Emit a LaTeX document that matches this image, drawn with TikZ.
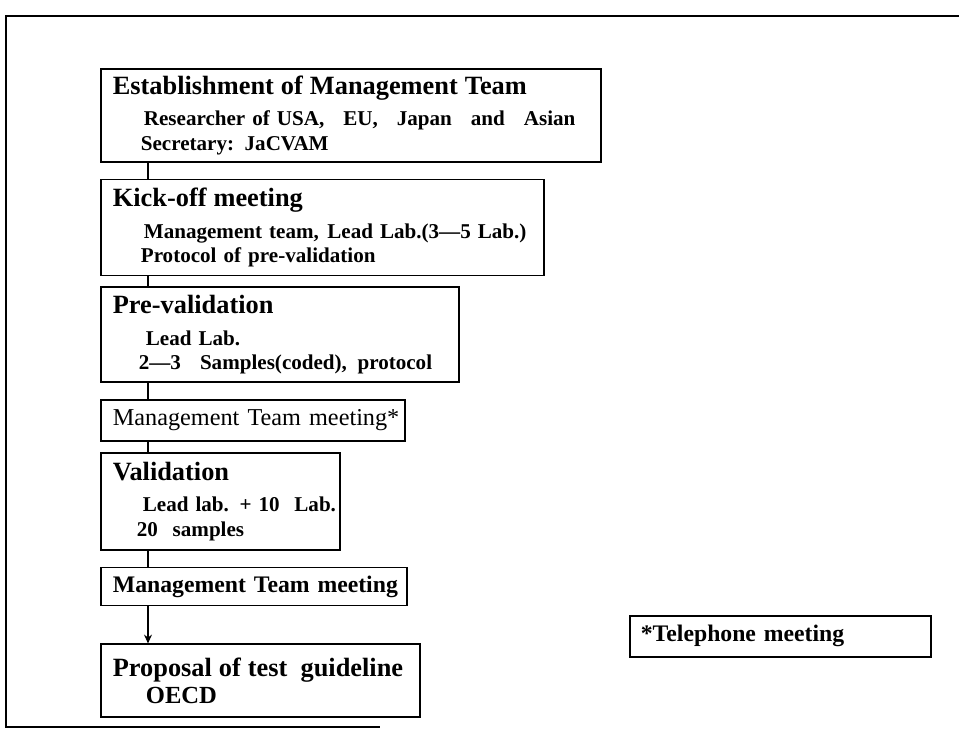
\documentclass[tikz,border=0pt]{standalone}
\usepackage{fontspec}
\setmainfont{Liberation Serif}
\usetikzlibrary{arrows.meta, positioning}
\newcommand\stagetitle[1]{{\fontsize{15}{18}\selectfont #1}}
\newcommand\ind[1]{\hspace*{#1}}

\begin{document}
\begin{tikzpicture}[
    x = 0.02cm, y = -0.02cm,
    stage/.style = {rectangle, draw, line width=1pt, anchor=north west,
                    align=left, inner xsep=0pt, inner ysep=0pt,
                    font=\bfseries\fontsize{12}{14}\selectfont},
    meet/.style  = {stage, font=\fontsize{13.8}{16}\selectfont},
    note/.style  = {stage, font=\bfseries\fontsize{13.5}{16}\selectfont},
    link/.style  = {line width=0.8pt},
    arrow/.style = {link, -{Stealth[length=5pt, width=4.5pt]}},
]
\useasboundingbox (0,0) rectangle (959,729);
\draw[line width=0.9pt] (959,16) -- (6,16) -- (6,727) -- (380,727);

\node[stage, text width=10cm, minimum height=1.86cm] (est) at (100,68)
  {\ind{0.24cm}\stagetitle{Establishment of Management Team}\\[4pt]
   \ind{0.86cm}Researcher of USA,\hspace{0.9em}EU,\hspace{0.9em}Japan\hspace{0.9em}and\hspace{0.9em}Asian\\
   \ind{0.8cm}Secretary: JaCVAM};
\node[stage, below=0.32cm of est.south west, anchor=north west,
      text width=8.86cm, minimum height=1.92cm] (kick)
  {\ind{0.24cm}\stagetitle{Kick-off meeting}\\[4pt]
   \ind{0.86cm}Management team,\hspace{0.4em}Lead Lab.(3—5 Lab.)\\
   \ind{0.8cm}Protocol of pre-validation};
\node[stage, below=0.2cm of kick.south west, anchor=north west,
      text width=7.16cm, minimum height=1.9cm] (prev)
  {\ind{0.24cm}\stagetitle{Pre-validation}\\[4pt]
   \ind{0.9cm}Lead Lab.\\
   \ind{0.76cm}2—3\hspace{0.9em}Samples(coded),\hspace{0.5em}protocol};
\node[meet, below=0.32cm of prev.south west, anchor=north west,
      text width=6.08cm, minimum height=0.82cm] (mtm1)
  {\ind{0.24cm}Management Team meeting*};
\node[stage, below=0.2cm of mtm1.south west, anchor=north west,
      text width=4.78cm, minimum height=1.94cm] (val)
  {\ind{0.24cm}\stagetitle{Validation}\\[4pt]
   \ind{0.84cm}Lead lab. + 10\hspace{0.7em}Lab.\\
   \ind{0.72cm}20\hspace{0.7em}samples};
\node[note, below=0.32cm of val.south west, anchor=north west,
      text width=6.12cm, minimum height=0.76cm] (mtm2)
  {\ind{0.24cm}Management Team meeting};
\node[stage, below=0.74cm of mtm2.south west, anchor=north west,
      text width=6.38cm, minimum height=1.46cm] (prop)
  {\ind{0.24cm}\stagetitle{Proposal of test\hspace{0.5em}guideline}\\[1pt]
   \ind{0.9cm}{\fontsize{14}{16}\selectfont OECD}};

\node[note, text width=6.02cm, minimum height=0.82cm] (tel) at (629,615)
  {\ind{0.22cm}*Telephone meeting};

\draw[link] ([xshift=0.96cm]est.south west)  -- ([xshift=0.96cm]kick.north west);
\draw[link] ([xshift=0.96cm]kick.south west) -- ([xshift=0.96cm]prev.north west);
\draw[link] ([xshift=0.96cm]prev.south west) -- ([xshift=0.96cm]mtm1.north west);
\draw[link] ([xshift=0.96cm]mtm1.south west) -- ([xshift=0.96cm]val.north west);
\draw[link] ([xshift=0.96cm]val.south west)  -- ([xshift=0.96cm]mtm2.north west);
\draw[arrow] ([xshift=0.96cm]mtm2.south west) -- ([xshift=0.96cm]prop.north west);
\end{tikzpicture}
\end{document}
